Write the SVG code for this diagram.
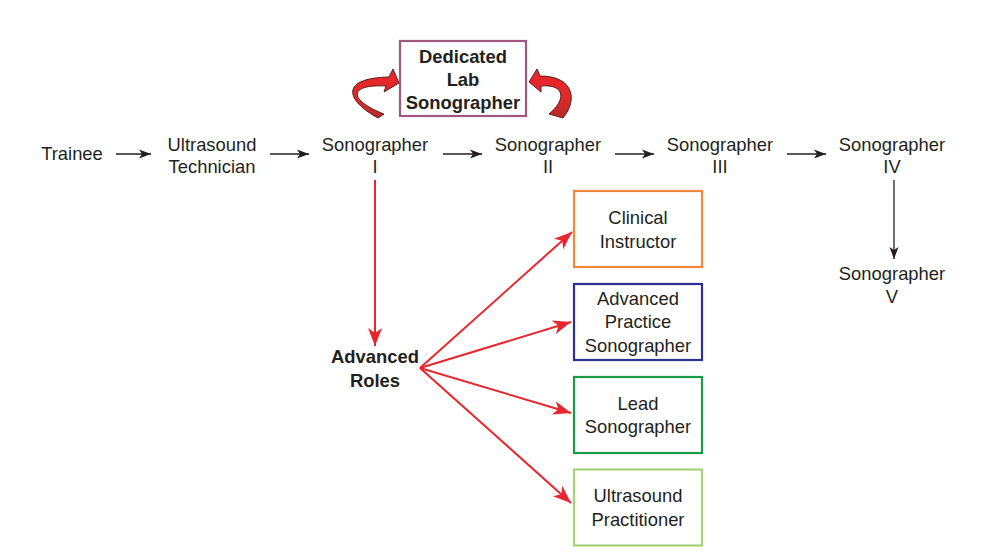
<svg xmlns="http://www.w3.org/2000/svg" width="991" height="556" viewBox="0 0 991 556">
<style>
text{font-family:"Liberation Sans",Arial,sans-serif;font-size:18.4px;fill:#231f20;text-anchor:middle}
.b{font-weight:bold}
.blk{stroke:#231f20;stroke-width:1.3;fill:none}
.red{stroke:#e8262d;stroke-width:2;fill:none}
.box{fill:#fff;stroke-width:2.2}
.curl{fill:url(#cg);stroke:#4a1212;stroke-width:0.9;stroke-linejoin:round}
</style>
<defs>
<linearGradient id="cg" x1="0" y1="0" x2="0" y2="1">
<stop offset="0" stop-color="#e8262b"/>
<stop offset="0.6" stop-color="#e02a2a"/>
<stop offset="1" stop-color="#b4282a"/>
</linearGradient>
<marker id="ah" markerUnits="userSpaceOnUse" markerWidth="13" markerHeight="10" refX="12" refY="4.5" orient="auto" overflow="visible">
<path d="M0,0 L12,4.5 L0,9 L3,4.5 Z" fill="#231f20"/>
</marker>
<marker id="rh" markerUnits="userSpaceOnUse" markerWidth="19" markerHeight="15" refX="18" refY="7" orient="auto" overflow="visible">
<path d="M0,0 L18,7 L0,14 L5,7 Z" fill="#e8262d"/>
</marker>
</defs>
<rect width="991" height="556" fill="#fff"/>
<g id="connectors">
<line class="blk" x1="116" y1="154" x2="151" y2="154" marker-end="url(#ah)"/>
<line class="blk" x1="270" y1="154" x2="309" y2="154" marker-end="url(#ah)"/>
<line class="blk" x1="443" y1="154" x2="482" y2="154" marker-end="url(#ah)"/>
<line class="blk" x1="615" y1="154" x2="654" y2="154" marker-end="url(#ah)"/>
<line class="blk" x1="787" y1="154" x2="826" y2="154" marker-end="url(#ah)"/>
<line class="blk" x1="894" y1="180" x2="894" y2="259" marker-end="url(#ah)"/>
<line class="red" x1="375" y1="180" x2="375" y2="346" marker-end="url(#rh)"/>
<line class="red" x1="420" y1="368" x2="572" y2="232" marker-end="url(#rh)"/>
<line class="red" x1="420" y1="368" x2="571" y2="322" marker-end="url(#rh)"/>
<line class="red" x1="420" y1="368" x2="571" y2="413" marker-end="url(#rh)"/>
<line class="red" x1="420" y1="368" x2="571" y2="503" marker-end="url(#rh)"/>
<path class="curl" d="M378,118 C345,100 340,78 389,77 L393,69 L399,83 L384,92 L386,86 C348,84 348,100 384,114 Z"/>
<path class="curl" d="M563,118 C578,100 574,76 540,76 L537,69 L529,82 L541,92 L541,86 C566,84 566,100 549,114 Z"/>
</g>
<g id="lab">
<rect class="box" x="400" y="41" width="126" height="75" stroke="#a0587e"/>
<text class="b" x="463" y="63">Dedicated</text>
<text class="b" x="463" y="86">Lab</text>
<text class="b" x="463" y="109">Sonographer</text>
</g>
<g id="trainee"><text x="72" y="160">Trainee</text></g>
<g id="tech"><text x="212" y="150.5">Ultrasound</text><text x="212" y="172.5">Technician</text></g>
<g id="s1"><text x="375" y="150.5">Sonographer</text><text x="375" y="172.5">I</text></g>
<g id="s2"><text x="548" y="150.5">Sonographer</text><text x="548" y="172.5">II</text></g>
<g id="s3"><text x="720" y="150.5">Sonographer</text><text x="720" y="172.5">III</text></g>
<g id="s4"><text x="892" y="150.5">Sonographer</text><text x="892" y="172.5">IV</text></g>
<g id="s5"><text x="892" y="280">Sonographer</text><text x="892" y="302.5">V</text></g>
<g id="adv"><text class="b" x="375" y="362.5">Advanced</text><text class="b" x="375" y="386.5">Roles</text></g>
<g id="clinical">
<rect class="box" x="574" y="191" width="128" height="76" stroke="#f0873a"/>
<text x="638" y="224.3">Clinical</text><text x="638" y="247.7">Instructor</text>
</g>
<g id="aps">
<rect class="box" x="574" y="284" width="128" height="76" stroke="#2e3192"/>
<text x="638" y="305">Advanced</text><text x="638" y="328.3">Practice</text><text x="638" y="351.7">Sonographer</text>
</g>
<g id="lead">
<rect class="box" x="574" y="377" width="128" height="76" stroke="#1a9a4a"/>
<text x="638" y="410">Lead</text><text x="638" y="432.7">Sonographer</text>
</g>
<g id="up">
<rect class="box" x="574" y="469.5" width="128" height="76" stroke="#a6d27a"/>
<text x="638" y="501.7">Ultrasound</text><text x="638" y="525.7">Practitioner</text>
</g>
</svg>
